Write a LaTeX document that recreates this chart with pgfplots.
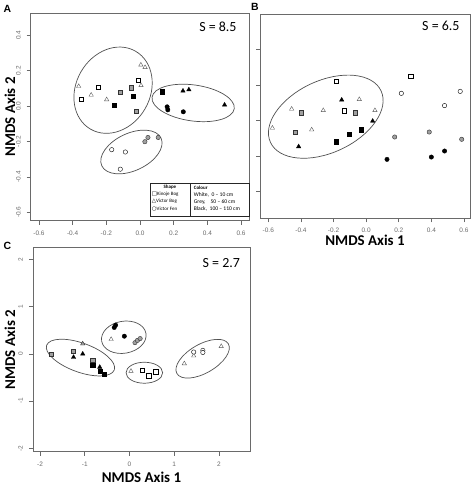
\documentclass[border=0pt]{standalone}
\usepackage{fontspec}
\setmainfont{Liberation Sans}
\newfontfamily\calib{Carlito}
\newfontfamily\dejavu{DejaVu Sans}
\usepackage{pgfplots}
\pgfplotsset{compat=1.18}

\definecolor{axgray}{HTML}{6A6A6A}
\definecolor{ptgray}{HTML}{A0A0A0}
\definecolor{elgray}{HTML}{505050}

\tikzset{
  ell/.style={elgray, line width=0.7bp},
  stxt/.style={font=\calib\fontsize{14}{16}\selectfont, anchor=east},
}
\pgfplotsset{
  nmds/.style={
    scale only axis, clip=false,
    axis line style={axgray, line width=0.7bp},
    tick style={axgray, line width=0.6bp},
    tick align=outside, major tick length=4bp,
    xtick pos=left, ytick pos=left,
    ticklabel style={font=\fontsize{6.5}{7}\selectfont, text=axgray},
    ticklabel shift=2.5bp,
    yticklabel style={rotate=90, anchor=south},
    xticklabel style={anchor=north},
    label style={font=\calib\bfseries\fontsize{15}{17}\selectfont, inner sep=1bp},
  },
  P/.style={only marks, line width=0.4bp},
  wsq/.style={P, mark=square*, mark size=2.1bp, draw=black, fill=white},
  gsq/.style={P, mark=square*, mark size=2.1bp, draw=black!80, fill=ptgray},
  bsq/.style={P, mark=square*, mark size=2.1bp, draw=black, fill=black},
  wtri/.style={P, mark=triangle*, mark size=2.5bp, draw=black!65, fill=white},
  gtri/.style={P, mark=triangle*, mark size=2.5bp, draw=black!80, fill=ptgray},
  btri/.style={P, mark=triangle*, mark size=2.5bp, draw=black, fill=black},
  wci/.style={P, mark=*, mark size=2.2bp, draw=black, fill=white},
  gci/.style={P, mark=*, mark size=2.2bp, draw=black!80, fill=ptgray},
  bci/.style={P, mark=*, mark size=2.2bp, draw=black, fill=black},
}

\begin{document}
\begin{tikzpicture}
\useasboundingbox (0,0) rectangle (473bp,486bp);

% ---------------- Panel A ----------------
\begin{axis}[nmds, at={(30.7bp,265.3bp)}, anchor=south west,
  width=218.8bp, height=207.7bp,
  xmin=-0.649, xmax=0.650, ymin=-0.647, ymax=0.526,
  xtick={-0.6,-0.4,-0.2,0,0.2,0.4,0.6},
  xticklabels={-0.6,-0.4,-0.2,0.0,0.2,0.4,0.6},
  ytick={-0.6,-0.4,-0.2,0,0.2,0.4},
  yticklabels={-0.6,-0.4,-0.2,0.0,0.2,0.4},
  ylabel={NMDS Axis 2},
  ylabel style={at={(axis description cs:-0.095,0.5)}, anchor=center},
]
\draw[ell] (axis cs:-0.160,0.090) ellipse [x radius=45bp, y radius=37bp, rotate=60];
\draw[ell] (axis cs:0.3155,0.018) ellipse [x radius=41.5bp, y radius=18bp, rotate=-8];
\draw[ell] (axis cs:-0.051,-0.259) ellipse [x radius=32.7bp, y radius=18.7bp, rotate=25];

\addplot[wsq] coordinates {(-0.350,0.038) (-0.250,0.106) (-0.012,0.148)};
\addplot[gsq] coordinates {(-0.118,0.080) (-0.052,0.104) (-0.022,-0.027)};
\addplot[bsq] coordinates {(-0.152,0.004) (-0.040,0.058) (0.133,0.082)};
\addplot[wtri] coordinates {(-0.364,0.112) (-0.290,0.063) (-0.198,0.037) (0.005,0.233) (0.030,0.219) (0.006,0.117)};
\addplot[btri] coordinates {(0.255,0.086) (0.290,0.093) (0.502,0.007)};
\addplot[bci] coordinates {(0.161,-0.004) (0.165,-0.021) (0.257,-0.032)};
\addplot[gci] coordinates {(0.047,-0.177) (0.029,-0.201) (0.108,-0.177)};
\addplot[wci] coordinates {(-0.168,-0.246) (-0.087,-0.259) (-0.117,-0.356)};

\node[stxt] at (axis description cs:0.957,0.933) {S = 8.5};

% legend table
\draw[black!85, line width=0.5bp, fill=white] (axis description cs:0.548,0.022) rectangle (axis description cs:0.998,0.180);
\draw[black!85, line width=0.5bp] (axis description cs:0.727,0.022) -- (axis description cs:0.727,0.180);
\node[font=\calib\bfseries\fontsize{5}{6}\selectfont, inner sep=0pt] at (axis description cs:0.636,0.160) {Shape};
\node[font=\calib\fontsize{5}{6}\selectfont, anchor=west, inner sep=0pt] at (axis description cs:0.553,0.126) {{\dejavu\fontsize{5.5}{6}\selectfont □}Kinoje Bog};
\node[font=\calib\fontsize{5}{6}\selectfont, anchor=west, inner sep=0pt] at (axis description cs:0.553,0.092) {{\dejavu\fontsize{5.5}{6}\selectfont △}Victor Bog};
\node[font=\calib\fontsize{5}{6}\selectfont, anchor=west, inner sep=0pt] at (axis description cs:0.553,0.058) {{\dejavu\fontsize{5.5}{6}\selectfont ○}Victor Fen};
\node[font=\calib\bfseries\fontsize{5}{6}\selectfont, anchor=west, inner sep=0pt] at (axis description cs:0.745,0.160) {Colour};
\node[font=\calib\fontsize{5.6}{6}\selectfont, anchor=west, inner sep=0pt] at (axis description cs:0.745,0.126) {White,\ \ 0 – 10 cm};
\node[font=\calib\fontsize{5.6}{6}\selectfont, anchor=west, inner sep=0pt] at (axis description cs:0.745,0.092) {Grey,\ \ \ \ 50 – 60 cm};
\node[font=\calib\fontsize{5.6}{6}\selectfont, anchor=west, inner sep=0pt] at (axis description cs:0.745,0.058) {Black,\ \ 100 – 110 cm};
\end{axis}

% ---------------- Panel B ----------------
\begin{axis}[nmds, at={(260bp,267.7bp)}, anchor=south west,
  width=210bp, height=204.3bp,
  xmin=-0.651, xmax=0.637, ymin=-0.552, ymax=0.599,
  xtick={-0.6,-0.4,-0.2,0,0.2,0.4,0.6},
  xticklabels={-0.6,-0.4,-0.2,0.0,0.2,0.4,0.6},
  ytick={-0.4,-0.2,0,0.2,0.4},
  yticklabel style={opacity=0, text opacity=0},
  xlabel={NMDS Axis 1},
  xlabel style={at={(axis description cs:0.5,-0.11)}, anchor=center},
]
\draw[ell] (axis cs:-0.2475,0.0205) ellipse [x radius=61bp, y radius=36bp, rotate=25];

\addplot[wtri] coordinates {(-0.575,-0.043) (-0.457,0.064) (-0.334,-0.053) (-0.263,0.056) (-0.042,0.118) (0.054,0.056)};
\addplot[gsq] coordinates {(-0.396,0.043) (-0.436,-0.068) (-0.069,0.043)};
\addplot[wsq] coordinates {(-0.183,0.222) (-0.136,0.054) (0.273,0.250)};
\addplot[btri] coordinates {(-0.150,0.115) (-0.414,-0.148) (0.040,-0.004)};
\addplot[bsq] coordinates {(-0.183,-0.120) (-0.103,-0.079) (-0.032,-0.053)};
\addplot[wci] coordinates {(0.216,0.152) (0.481,0.083) (0.577,0.163)};
\addplot[gci] coordinates {(0.175,-0.094) (0.387,-0.066) (0.586,-0.107)};
\addplot[bci] coordinates {(0.128,-0.220) (0.400,-0.207) (0.481,-0.173)};

\node[stxt] at (axis description cs:0.967,0.941) {S = 6.5};
\end{axis}

% ---------------- Panel C ----------------
\begin{axis}[nmds, at={(33bp,34.3bp)}, anchor=south west,
  width=217bp, height=204bp,
  xmin=-2.156, xmax=2.693, ymin=-2.072, ymax=2.25,
  xtick={-2,-1,0,1,2}, xticklabels={-2,-1,0,1,2},
  ytick={-2,-1,0,1,2}, yticklabels={-2,-1,0,1,2},
  xlabel={NMDS Axis 1}, ylabel={NMDS Axis 2},
  xlabel style={at={(axis description cs:0.5,-0.124)}, anchor=center},
  ylabel style={at={(axis description cs:-0.106,0.5)}, anchor=center},
]
\draw[ell] (axis cs:-1.095,-0.078) ellipse [x radius=36bp, y radius=14.5bp, rotate=-20];
\draw[ell] (axis cs:-0.127,0.353) ellipse [x radius=22.5bp, y radius=16bp, rotate=10];
\draw[ell] (axis cs:0.332,-0.399) ellipse [x radius=18.3bp, y radius=10.5bp];
\draw[ell] (axis cs:1.635,-0.102) ellipse [x radius=29.7bp, y radius=14.4bp, rotate=30];

\addplot[gsq] coordinates {(-1.745,0.0) (-1.25,0.05) (-0.82,-0.13)};
\addplot[gtri] coordinates {(-1.045,0.215)};
\addplot[btri] coordinates {(-1.25,-0.07) (-1.045,0.0) (-0.665,-0.28)};
\addplot[bsq] coordinates {(-0.82,-0.234) (-0.66,-0.36) (-0.57,-0.43)};
\addplot[wtri] coordinates {(-0.41,0.31) (0.034,-0.365) (1.225,-0.205) (1.435,-0.04) (2.05,0.16)};
\addplot[bci] coordinates {(-0.34,0.56) (-0.31,0.61) (-0.115,0.375)};
\addplot[gci] coordinates {(0.123,0.238) (0.178,0.286) (0.238,0.325)};
\addplot[wsq] coordinates {(0.287,-0.34) (0.43,-0.46) (0.585,-0.375)};
\addplot[wci] coordinates {(1.435,0.04) (1.64,0.075) (1.64,0.03)};

\node[stxt] at (axis description cs:0.970,0.926) {S = 2.7};
\end{axis}

% panel letters
\node[font=\bfseries\fontsize{10.5}{12}\selectfont] at (7.5bp,477.5bp) {A};
\node[font=\bfseries\fontsize{10.5}{12}\selectfont] at (255bp,479.3bp) {B};
\node[font=\bfseries\fontsize{10.5}{12}\selectfont] at (7.5bp,240.5bp) {C};
\end{tikzpicture}
\end{document}
